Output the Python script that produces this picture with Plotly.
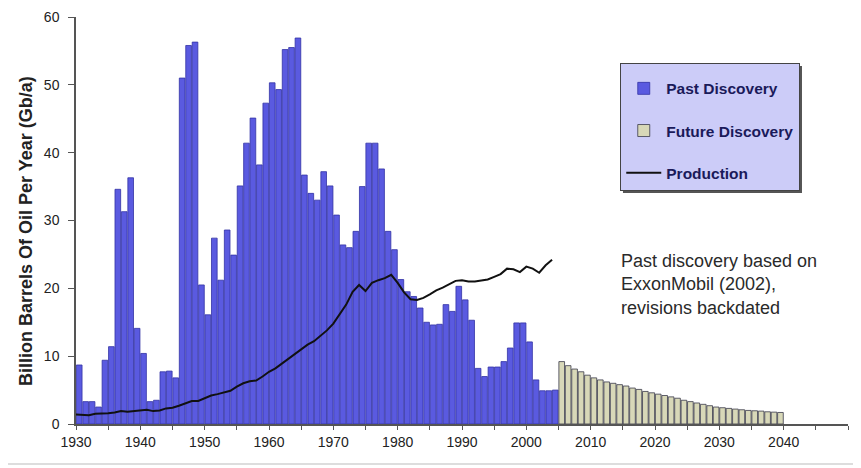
import plotly.graph_objects as go

# ---------------- data ----------------
past_years = list(range(1930, 2005))
past_discovery = [
    8.7, 3.3, 3.3, 2.5, 9.4, 11.4, 34.6, 31.3, 36.3, 14.1,      # 1930s
    10.4, 3.3, 3.5, 7.7, 7.8, 6.8, 51.0, 55.8, 56.3, 20.5,      # 1940s
    16.1, 27.4, 21.2, 28.6, 24.9, 35.1, 41.4, 45.1, 38.2, 47.3,  # 1950s
    50.3, 49.3, 55.2, 55.5, 56.9, 36.7, 34.0, 33.0, 37.2, 35.1,  # 1960s
    30.8, 26.4, 26.0, 28.4, 35.0, 41.4, 41.4, 37.6, 28.4, 25.7,  # 1970s
    21.3, 19.5, 18.8, 17.1, 15.0, 14.6, 14.7, 17.6, 16.6, 20.3,  # 1980s
    18.3, 15.3, 8.2, 7.0, 8.4, 8.4, 9.2, 11.2, 14.9, 14.9,       # 1990s
    12.1, 6.5, 4.9, 4.9, 5.0,                                    # 2000-2004
]

future_years = list(range(2005, 2040))
future_discovery = [
    9.2, 8.6, 8.1, 7.7, 7.2, 6.8, 6.5, 6.2, 6.0, 5.8,
    5.6, 5.3, 5.1, 4.8, 4.6, 4.4, 4.2, 4.0, 3.8, 3.5,
    3.3, 3.1, 2.9, 2.7, 2.5, 2.4, 2.3, 2.2, 2.1, 2.0,
    1.95, 1.9, 1.8, 1.75, 1.7,
]

production_years = list(range(1930, 2005))
production = [
    1.4, 1.4, 1.3, 1.5, 1.5, 1.6, 1.7, 1.9, 1.8, 1.9,
    2.0, 2.1, 1.9, 2.0, 2.3, 2.4, 2.7, 3.0, 3.4, 3.4,
    3.8, 4.2, 4.4, 4.7, 4.9, 5.5, 6.0, 6.3, 6.4, 7.0,
    7.7, 8.2, 8.9, 9.6, 10.3, 11.0, 11.7, 12.2, 13.0, 13.8,
    14.8, 16.2, 17.6, 19.5, 20.5, 19.6, 20.8, 21.2, 21.5, 22.0,
    20.8, 19.4, 18.4, 18.3, 18.6, 19.1, 19.7, 20.1, 20.6, 21.1,
    21.2, 21.0, 21.0, 21.2, 21.3, 21.7, 22.1, 22.9, 22.8, 22.4,
    23.2, 22.9, 22.3, 23.4, 24.2,
]

x_tick_values = [1930, 1940, 1950, 1960, 1970, 1980, 1990, 2000, 2010, 2020, 2030, 2040, 2050]
x_tick_labels = [str(v) for v in x_tick_values]
y_tick_values = [0, 10, 20, 30, 40, 50, 60]

series_names = ["Past Discovery", "Future Discovery", "Production"]
note_lines = ["Past discovery based on", "ExxonMobil (2002),", "revisions backdated"]
y_title = "Billion Barrels Of Oil Per Year (Gb/a)"

# ---------------- styles ----------------
FONT = "Liberation Sans, Arial, sans-serif"
PAST_FILL = "#5a5ae0"
PAST_LINE = "#3232a4"
FUTURE_FILL = "#d8d8b8"
FUTURE_LINE = "#3a3a4a"
AXIS = "#555555"

fig = go.Figure()

fig.add_trace(go.Bar(
    x=past_years, y=past_discovery, name=series_names[0],
    width=0.88, offset=0.06,
    marker=dict(color=PAST_FILL, line=dict(color=PAST_LINE, width=0.8)),
    legendgroup="a",
))
fig.add_trace(go.Bar(
    x=future_years, y=future_discovery, name=series_names[1],
    width=0.88, offset=0.06,
    marker=dict(color=FUTURE_FILL, line=dict(color=FUTURE_LINE, width=0.8)),
    legendgroup="b",
))
fig.add_trace(go.Scatter(
    x=production_years, y=production, name=series_names[2],
    mode="lines", line=dict(color="#111111", width=2),
    legendgroup="c",
))

fig.update_layout(
    width=853, height=460,
    margin=dict(l=68, r=13, t=9, b=44, autoexpand=False),
    paper_bgcolor="white", plot_bgcolor="white",
    font=dict(family=FONT, color="#222222"),
    barmode="overlay",
    showlegend=True,
    legend=dict(
        x=0.705, y=0.887, xanchor="left", yanchor="top",
        bgcolor="#ccccf8", bordercolor="#444444", borderwidth=1,
        font=dict(family=FONT, size=15.5, color="#1a1a5a", weight="bold"),
        title=dict(text=" ", font=dict(size=6)),
        tracegroupgap=19, itemwidth=35,
    ),
    shapes=[
        # legend drop shadow
        dict(type="rect", xref="paper", yref="paper",
             x0=0.7085, x1=0.9404, y0=0.5676, y1=0.8796,
             fillcolor="#555555", line=dict(width=0), layer="below"),
        # light page border at the bottom
        dict(type="line", xref="paper", yref="paper",
             x0=-0.09, x1=1.02, y0=-0.098, y1=-0.098,
             line=dict(color="#dddddd", width=2)),
    ],
)

fig.update_xaxes(
    range=[1930, 2050], automargin=False,
    tickvals=x_tick_values, ticktext=x_tick_labels,
    tickfont=dict(family=FONT, size=14, color="#222222"),
    showline=True, linecolor=AXIS, linewidth=1.5,
    ticks="outside", ticklen=4, tickcolor=AXIS,
    minor=dict(dtick=5, ticks="outside", ticklen=4, tickcolor=AXIS),
    showgrid=False, zeroline=False,
)
fig.update_yaxes(
    range=[0, 60], automargin=False,
    tickvals=y_tick_values,
    tickfont=dict(family=FONT, size=14, color="#222222"),
    showline=True, linecolor=AXIS, linewidth=1.5,
    ticks="outside", ticklen=6, tickcolor=AXIS,
    ticklabelstandoff=6,
    showgrid=False, zeroline=False,
)

fig.add_annotation(
    xref="paper", yref="paper", x=-0.064, y=0.473,
    text=y_title, textangle=-90, showarrow=False,
    font=dict(family=FONT, size=18, color="#222222", weight="bold"),
    xanchor="center", yanchor="middle",
)
fig.add_annotation(
    xref="paper", yref="paper", x=0.703, y=0.43,
    text="<br>".join(note_lines), showarrow=False, align="left",
    font=dict(family=FONT, size=18, color="#2a2a2a"),
    xanchor="left", yanchor="top",
)

fig.write_html("out.html")
